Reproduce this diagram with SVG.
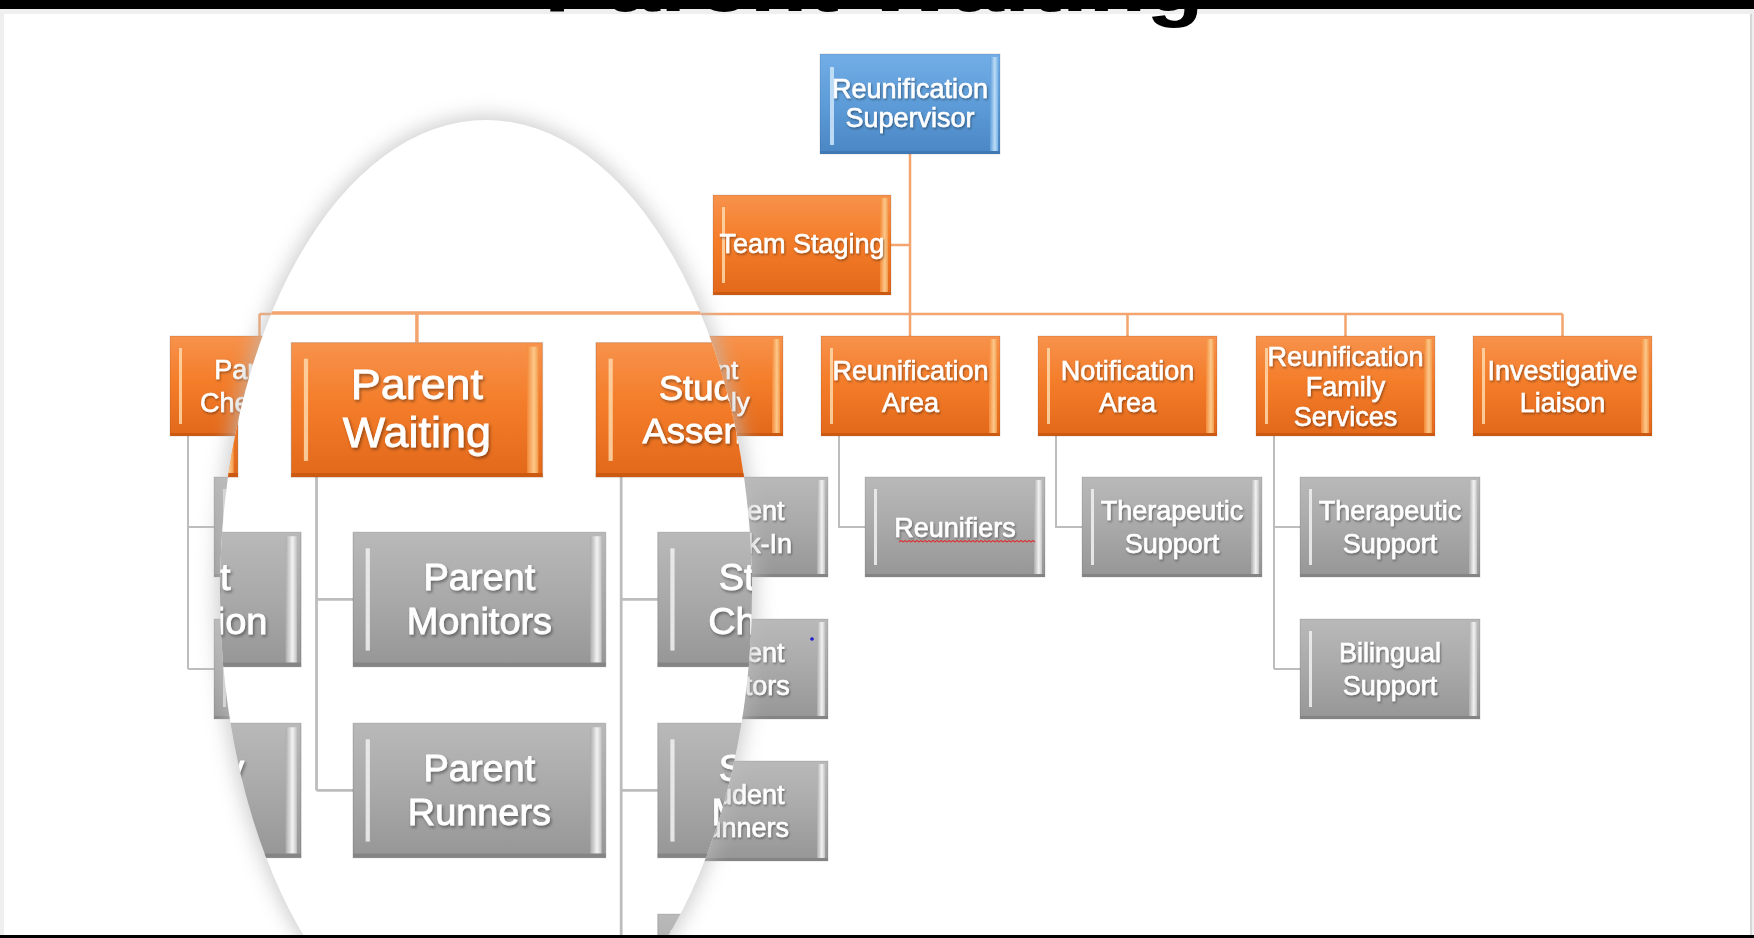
<svg xmlns="http://www.w3.org/2000/svg" xmlns:xlink="http://www.w3.org/1999/xlink" width="1754" height="938" viewBox="0 0 1754 938">
<defs>
<linearGradient id="og" x1="0" y1="0" x2="0" y2="1"><stop offset="0" stop-color="#f7924c"/><stop offset="0.45" stop-color="#f47d2a"/><stop offset="1" stop-color="#e2681a"/></linearGradient>
<linearGradient id="gg" x1="0" y1="0" x2="0" y2="1"><stop offset="0" stop-color="#b9b9b9"/><stop offset="0.5" stop-color="#a9a9a9"/><stop offset="1" stop-color="#969696"/></linearGradient>
<linearGradient id="bg" x1="0" y1="0" x2="0" y2="1"><stop offset="0" stop-color="#72ade6"/><stop offset="0.5" stop-color="#5d9cd8"/><stop offset="1" stop-color="#4a86c4"/></linearGradient>
<linearGradient id="ohr" x1="0" y1="0" x2="1" y2="0"><stop offset="0" stop-color="#f58a3a"/><stop offset="0.6" stop-color="#fcc88a"/><stop offset="1" stop-color="#f29a4c"/></linearGradient>
<linearGradient id="ghr" x1="0" y1="0" x2="1" y2="0"><stop offset="0" stop-color="#adadad"/><stop offset="0.6" stop-color="#f2f2f2"/><stop offset="1" stop-color="#c4c4c4"/></linearGradient>
<linearGradient id="bhr" x1="0" y1="0" x2="1" y2="0"><stop offset="0" stop-color="#5f9edb"/><stop offset="0.6" stop-color="#bcdcf6"/><stop offset="1" stop-color="#7ab3e6"/></linearGradient>
<filter id="ts" x="-10%" y="-30%" width="120%" height="160%"><feDropShadow dx="1" dy="1.5" stdDeviation="1" flood-color="#000" flood-opacity="0.4"/></filter>
<filter id="lblur" x="-20%" y="-20%" width="140%" height="140%"><feGaussianBlur stdDeviation="10"/></filter>
<clipPath id="lensClip"><ellipse cx="486" cy="592" rx="266" ry="472"/></clipPath>
<style>
.ob{fill:url(#og)} .gb{fill:url(#gg)} .bb{fill:url(#bg)}
.box{stroke:rgba(0,0,0,0.12);stroke-width:1}
.ors{fill:url(#ohr)} .grs{fill:url(#ghr)} .brs{fill:url(#bhr)}
.ol{fill:#fdd8aa;opacity:0.85} .gl{fill:#ededed;opacity:0.9} .bl{fill:#c6e2f8;opacity:0.9}
.ode{fill:#cc5912} .gde{fill:#848484} .bde{fill:#3f78b3}
.t{font-family:"Liberation Sans",Arial,sans-serif;font-size:27px;fill:#fff;stroke:#fff;stroke-width:0.6;text-anchor:middle;filter:url(#ts)}
.c1{stroke:#f4a46e;stroke-width:2.5;fill:none}
.c2{stroke:#bdbdbd;stroke-width:2;fill:none}
</style>
</defs>

<rect x="0" y="0" width="1754" height="938" fill="#efefef"/>
<rect x="4" y="14" width="1746" height="921" fill="#ffffff"/>
<line x1="1751" y1="14" x2="1751" y2="935" stroke="#d6d6d6" stroke-width="2"/>

<g id="chart">
<g id="connectors">
<path class="c1" d="M910 154V336 M891 245H910 M259.5 314H1562.5 M259.5 314V336 M476.5 314V336 M693.5 314V336 M1127.5 314V336 M1345.5 314V336 M1562.5 314V336"/>
<path class="c2" d="M188 436V669 M188 527H214 M188 669H214 M405 436V669 M405 527H431 M405 669H431 M622 436V940 M622 527H648 M622 669H648 M622 811H648 M839 436V527H865 M1056 436V527H1082 M1274 436V669 M1274 527H1300 M1274 669H1300"/>
</g>

<g id="n-supervisor">
<rect class="bb box" x="820" y="54" width="180" height="100"/>
<rect class="brs" x="990" y="57" width="8" height="94"/>
<rect class="bl" x="830" y="67" width="4" height="78"/>
<rect class="bde" x="820" y="151" width="180" height="3"/>
<text class="t" x="910" y="98">Reunification</text>
<text class="t" x="910" y="127">Supervisor</text>
</g>

<g id="n-team-staging">
<rect class="ob box" x="713" y="195" width="178" height="100"/>
<rect class="ors" x="880" y="198" width="8" height="94"/>
<rect class="ol" x="722" y="207" width="3" height="76"/>
<rect class="ode" x="713" y="292" width="178" height="3"/>
<text class="t" x="802" y="253">Team Staging</text>
</g>

<g id="n-parent-checkin">
<rect class="ob box" x="170" y="336" width="179" height="100"/>
<rect class="ors" x="338" y="339" width="8" height="94"/>
<rect class="ol" x="179" y="348" width="3" height="76"/>
<rect class="ode" x="170" y="433" width="179" height="3"/>
<text class="t" x="254" y="379">Parent</text>
<text class="t" x="254" y="412">Check-In</text>
</g>

<g id="n-parent-waiting">
<rect class="ob box" x="387" y="336" width="179" height="100"/>
<rect class="ors" x="555" y="339" width="8" height="94"/>
<rect class="ol" x="396" y="348" width="3" height="76"/>
<rect class="ode" x="387" y="433" width="179" height="3"/>
<text class="t" x="476.5" y="378" style="font-size:32px">Parent</text>
<text class="t" x="476.5" y="414" style="font-size:32px">Waiting</text>
</g>

<g id="n-student-assembly">
<rect class="ob box" x="604" y="336" width="179" height="100"/>
<rect class="ors" x="772" y="339" width="8" height="94"/>
<rect class="ol" x="613" y="348" width="3" height="76"/>
<rect class="ode" x="604" y="433" width="179" height="3"/>
<text class="t" x="693.5" y="379" style="font-size:26px">Student</text>
<text class="t" x="693.5" y="411" style="font-size:26px">Assembly</text>
</g>

<g id="n-reunification-area">
<rect class="ob box" x="821" y="336" width="179" height="100"/>
<rect class="ors" x="989" y="339" width="8" height="94"/>
<rect class="ol" x="830" y="348" width="3" height="76"/>
<rect class="ode" x="821" y="433" width="179" height="3"/>
<text class="t" x="910.5" y="380">Reunification</text>
<text class="t" x="910.5" y="412">Area</text>
</g>

<g id="n-notification-area">
<rect class="ob box" x="1038" y="336" width="179" height="100"/>
<rect class="ors" x="1206" y="339" width="8" height="94"/>
<rect class="ol" x="1047" y="348" width="3" height="76"/>
<rect class="ode" x="1038" y="433" width="179" height="3"/>
<text class="t" x="1127.5" y="380">Notification</text>
<text class="t" x="1127.5" y="412">Area</text>
</g>

<g id="n-family-services">
<rect class="ob box" x="1256" y="336" width="179" height="100"/>
<rect class="ors" x="1424" y="339" width="8" height="94"/>
<rect class="ol" x="1265" y="348" width="3" height="76"/>
<rect class="ode" x="1256" y="433" width="179" height="3"/>
<text class="t" x="1345.5" y="366">Reunification</text>
<text class="t" x="1345.5" y="396">Family</text>
<text class="t" x="1345.5" y="426">Services</text>
</g>

<g id="n-investigative-liaison">
<rect class="ob box" x="1473" y="336" width="179" height="100"/>
<rect class="ors" x="1641" y="339" width="8" height="94"/>
<rect class="ol" x="1482" y="348" width="3" height="76"/>
<rect class="ode" x="1473" y="433" width="179" height="3"/>
<text class="t" x="1562.5" y="380">Investigative</text>
<text class="t" x="1562.5" y="412">Liaison</text>
</g>

<g id="n-parent-verification">
<rect class="gb box" x="214" y="477" width="180" height="100"/>
<rect class="grs" x="383" y="480" width="8" height="94"/>
<rect class="gl" x="223" y="489" width="3" height="76"/>
<rect class="gde" x="214" y="574" width="180" height="3"/>
<text class="t" x="304" y="520">Parent</text>
<text class="t" x="304" y="553">Verification</text>
</g>

<g id="n-custody-desk">
<rect class="gb box" x="214" y="619" width="180" height="100"/>
<rect class="grs" x="383" y="622" width="8" height="94"/>
<rect class="gl" x="223" y="631" width="3" height="76"/>
<rect class="gde" x="214" y="716" width="180" height="3"/>
<text class="t" x="304" y="662">Custody</text>
<text class="t" x="304" y="695">Desk</text>
</g>

<g id="n-parent-monitors">
<rect class="gb box" x="431" y="477" width="180" height="100"/>
<rect class="grs" x="600" y="480" width="8" height="94"/>
<rect class="gl" x="440" y="489" width="3" height="76"/>
<rect class="gde" x="431" y="574" width="180" height="3"/>
<text class="t" x="521" y="520">Parent</text>
<text class="t" x="521" y="553">Monitors</text>
</g>

<g id="n-parent-runners">
<rect class="gb box" x="431" y="619" width="180" height="100"/>
<rect class="grs" x="600" y="622" width="8" height="94"/>
<rect class="gl" x="440" y="631" width="3" height="76"/>
<rect class="gde" x="431" y="716" width="180" height="3"/>
<text class="t" x="521" y="662">Parent</text>
<text class="t" x="521" y="695">Runners</text>
</g>

<g id="n-student-checkin">
<rect class="gb box" x="648" y="477" width="180" height="100"/>
<rect class="grs" x="817" y="480" width="8" height="94"/>
<rect class="gl" x="657" y="489" width="3" height="76"/>
<rect class="gde" x="648" y="574" width="180" height="3"/>
<text class="t" x="738" y="520">Student</text>
<text class="t" x="738" y="553">Check-In</text>
</g>

<g id="n-student-monitors">
<rect class="gb box" x="648" y="619" width="180" height="100"/>
<rect class="grs" x="817" y="622" width="8" height="94"/>
<rect class="gl" x="657" y="631" width="3" height="76"/>
<rect class="gde" x="648" y="716" width="180" height="3"/>
<text class="t" x="738" y="662">Student</text>
<text class="t" x="738" y="695">Monitors</text>
</g>

<g id="n-student-runners">
<rect class="gb box" x="648" y="761" width="180" height="100"/>
<rect class="grs" x="817" y="764" width="8" height="94"/>
<rect class="gl" x="657" y="773" width="3" height="76"/>
<rect class="gde" x="648" y="858" width="180" height="3"/>
<text class="t" x="738" y="804">Student</text>
<text class="t" x="738" y="837">Runners</text>
</g>

<g id="n-reunifiers">
<rect class="gb box" x="865" y="477" width="180" height="100"/>
<rect class="grs" x="1034" y="480" width="8" height="94"/>
<rect class="gl" x="874" y="489" width="3" height="76"/>
<rect class="gde" x="865" y="574" width="180" height="3"/>
<text class="t" x="955" y="537">Reunifiers</text>
<path d="M899 542 l2-1.6 l2 1.6 l2-1.6 l2 1.6 l2-1.6 l2 1.6 l2-1.6 l2 1.6 l2-1.6 l2 1.6 l2-1.6 l2 1.6 l2-1.6 l2 1.6 l2-1.6 l2 1.6 l2-1.6 l2 1.6 l2-1.6 l2 1.6 l2-1.6 l2 1.6 l2-1.6 l2 1.6 l2-1.6 l2 1.6 l2-1.6 l2 1.6 l2-1.6 l2 1.6 l2-1.6 l2 1.6 l2-1.6 l2 1.6 l2-1.6 l2 1.6 l2-1.6 l2 1.6 l2-1.6 l2 1.6 l2-1.6 l2 1.6 l2-1.6 l2 1.6 l2-1.6 l2 1.6 l2-1.6 l2 1.6 l2-1.6 l2 1.6 l2-1.6 l2 1.6 l2-1.6 l2 1.6 l2-1.6 l2 1.6 l2-1.6 l2 1.6 l2-1.6 l2 1.6 l2-1.6 l2 1.6 l2-1.6 l2 1.6 l2-1.6 l2 1.6 l2-1.6 l2 1.6" fill="none" stroke="#d8383a" stroke-width="1.2"/>
</g>

<g id="n-therapeutic-support-1">
<rect class="gb box" x="1082" y="477" width="180" height="100"/>
<rect class="grs" x="1251" y="480" width="8" height="94"/>
<rect class="gl" x="1091" y="489" width="3" height="76"/>
<rect class="gde" x="1082" y="574" width="180" height="3"/>
<text class="t" x="1172" y="520">Therapeutic</text>
<text class="t" x="1172" y="553">Support</text>
</g>

<g id="n-therapeutic-support-2">
<rect class="gb box" x="1300" y="477" width="180" height="100"/>
<rect class="grs" x="1469" y="480" width="8" height="94"/>
<rect class="gl" x="1309" y="489" width="3" height="76"/>
<rect class="gde" x="1300" y="574" width="180" height="3"/>
<text class="t" x="1390" y="520">Therapeutic</text>
<text class="t" x="1390" y="553">Support</text>
</g>

<g id="n-bilingual-support">
<rect class="gb box" x="1300" y="619" width="180" height="100"/>
<rect class="grs" x="1469" y="622" width="8" height="94"/>
<rect class="gl" x="1309" y="631" width="3" height="76"/>
<rect class="gde" x="1300" y="716" width="180" height="3"/>
<text class="t" x="1390" y="662">Bilingual</text>
<text class="t" x="1390" y="695">Support</text>
</g>
</g>

<circle cx="812" cy="639" r="1.8" fill="#1a1acc"/>

<g id="lens">
<ellipse cx="486" cy="592" rx="270" ry="476" fill="#bdbdbd" opacity="0.75" filter="url(#lblur)"/>
<ellipse cx="486" cy="592" rx="266" ry="472" fill="#ffffff"/>
<g clip-path="url(#lensClip)">
<use xlink:href="#chart" href="#chart" transform="translate(624 317) scale(1.404 1.345) translate(-624 -317)"/>
</g>
</g>

<text x="544" y="11" style="font-family:'Liberation Sans',Arial,sans-serif;font-weight:bold;font-size:80px;fill:#000" textLength="660" lengthAdjust="spacingAndGlyphs">Parent Waiting</text>
<rect x="0" y="0" width="1754" height="9" fill="#000"/>
<rect x="0" y="935" width="1754" height="3" fill="#000"/>
</svg>
